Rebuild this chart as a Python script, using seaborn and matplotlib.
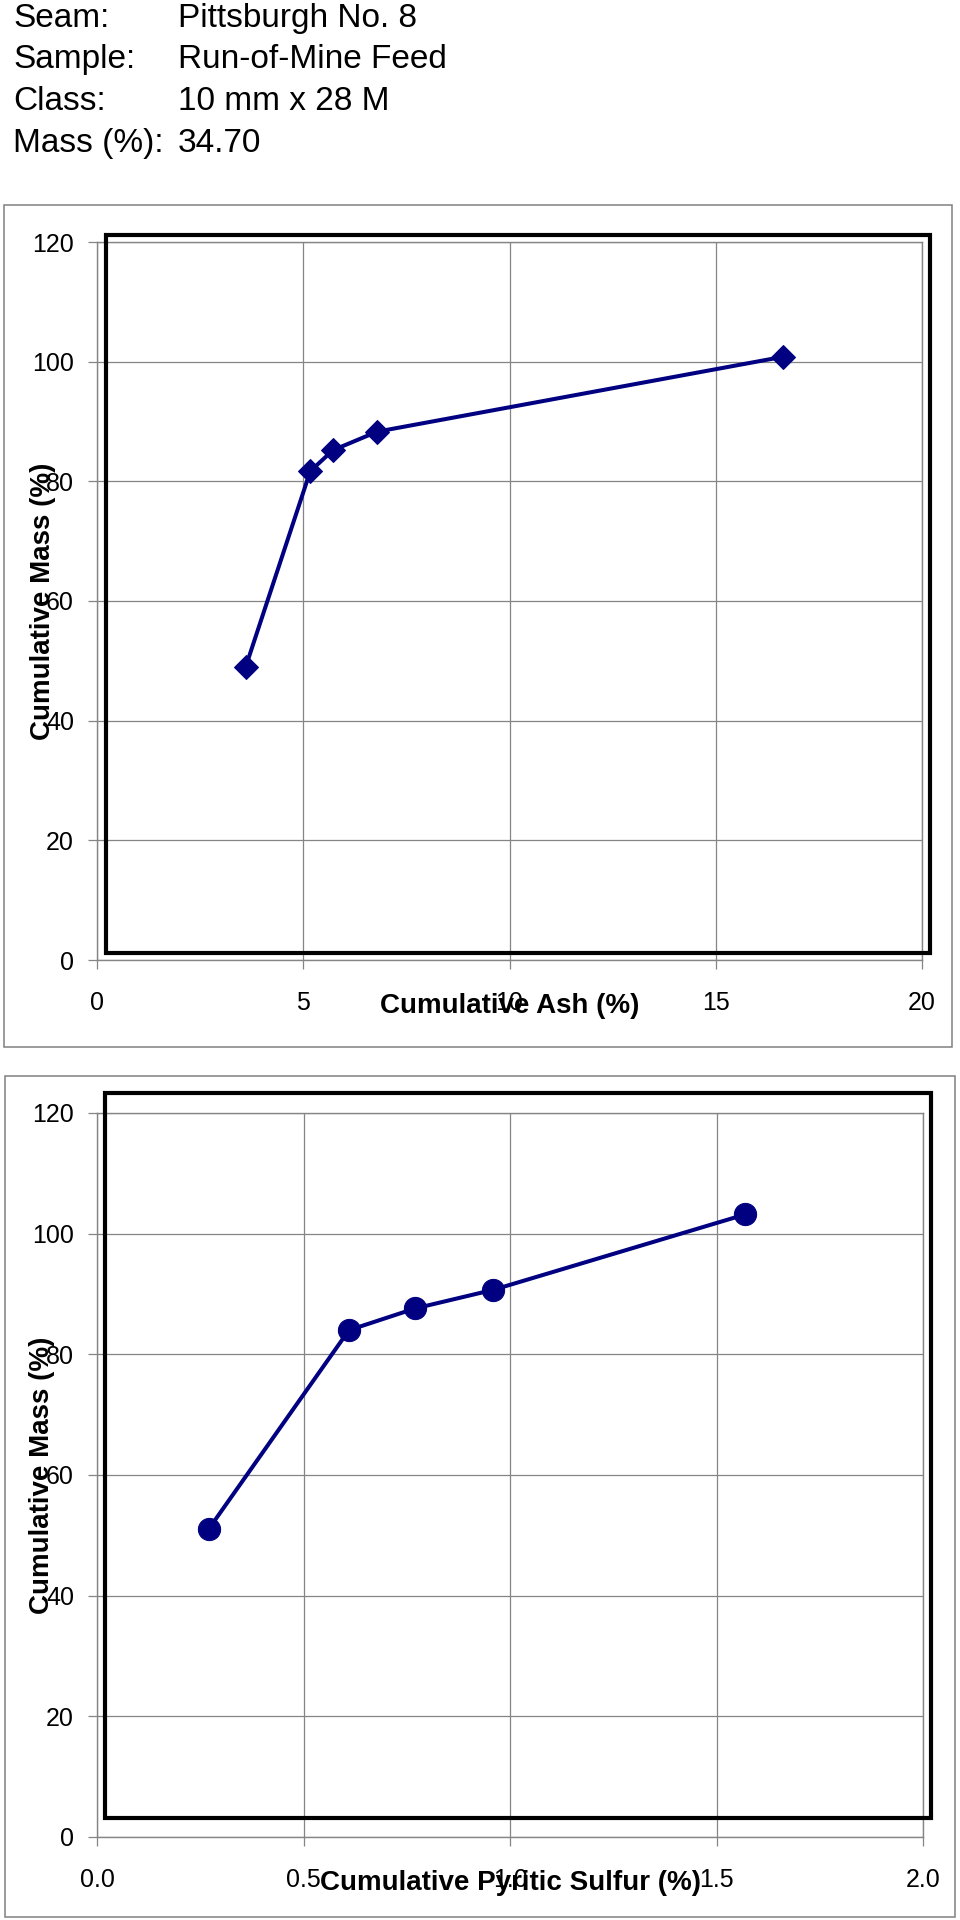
import matplotlib
matplotlib.use('Agg')
import matplotlib.pyplot as plt
from matplotlib.patches import Rectangle
from matplotlib.ticker import FormatStrFormatter
import seaborn as sns

header_labels = ['Seam:', 'Sample:', 'Class:', 'Mass (%):']
header_values = ['Pittsburgh No. 8', 'Run-of-Mine Feed', '10 mm x 28 M', '34.70']

cum_ash = [3.60, 5.17, 5.72, 6.79, 16.62]
cum_mass_ash = [48.9, 81.7, 85.2, 88.3, 100.8]

cum_sulfur = [0.27, 0.61, 0.77, 0.96, 1.57]
cum_mass_sulfur = [51.0, 84.0, 87.6, 90.7, 103.2]

ash_ticks = [0, 5, 10, 15, 20]
sulfur_ticks = [0.0, 0.5, 1.0, 1.5, 2.0]
mass_ticks = [0, 20, 40, 60, 80, 100, 120]

W, H = 960, 1920
NAVY = '#000080'
GRAY = '#858585'

sns.set_theme(style='white')
plt.rcParams['font.family'] = ['Liberation Sans', 'DejaVu Sans']

fig = plt.figure(figsize=(W / 100, H / 100), dpi=100)
fig.patch.set_facecolor('white')


def box(left, top, right, bottom):
    # pixel box (from top-left) -> figure fraction [l, b, w, h]
    return [left / W, 1 - bottom / H, (right - left) / W, (bottom - top) / H]


def frame(left, top, right, bottom, lw, color):
    l, b, w, h = box(left, top, right, bottom)
    fig.add_artist(Rectangle((l, b), w, h, transform=fig.transFigure,
                             fill=False, lw=lw, edgecolor=color, zorder=10))


# header block
for lab, val, yb in zip(header_labels, header_values, [27, 68, 110, 152]):
    fig.text(13 / W, 1 - yb / H, lab, fontsize=24, va='baseline', color='black')
    fig.text(178 / W, 1 - yb / H, val, fontsize=24, va='baseline', color='black')


def panel(rect, x, y, marker, msize, xticks, xfmt, xlabel):
    ax = fig.add_axes(rect)
    sns.lineplot(x=x, y=y, ax=ax, sort=False, color=NAVY, linewidth=2.9,
                 marker=marker, markersize=msize, markerfacecolor=NAVY,
                 markeredgecolor=NAVY, zorder=5)
    ax.set_xlim(xticks[0], xticks[-1])
    ax.set_ylim(0, 120)
    ax.set_xticks(xticks)
    ax.set_yticks(mass_ticks)
    ax.xaxis.set_major_formatter(FormatStrFormatter(xfmt))
    ax.set_axisbelow(True)
    ax.grid(True, color=GRAY, linewidth=0.9)
    for sp in ax.spines.values():
        sp.set_color(GRAY)
        sp.set_linewidth(1.0)
    ax.tick_params(axis='both', which='both', direction='out', length=6.5,
                   width=0.9, color=GRAY, labelsize=18, labelcolor='black',
                   left=True, bottom=True)
    ax.tick_params(axis='x', pad=16)
    ax.tick_params(axis='y', pad=10)
    ax.set_xlabel(xlabel, fontsize=20, fontweight='bold', color='black')
    ax.set_ylabel('Cumulative Mass (%)', fontsize=20, fontweight='bold',
                  color='black', va='center')
    ax.xaxis.set_label_coords(0.5, -0.046)
    ax.yaxis.set_label_coords(-0.066, 0.5)
    return ax


# top chart: mass vs ash
frame(4, 205, 952, 1047, 1.1, '#808080')
panel(box(97, 242, 922, 960), cum_ash, cum_mass_ash, 'D', 12,
      ash_ticks, '%d', 'Cumulative Ash (%)')
frame(106, 235, 930, 953, 3.0, 'black')

# bottom chart: mass vs pyritic sulfur
frame(5, 1076, 955, 1917, 1.1, '#808080')
panel(box(97, 1113, 923, 1837), cum_sulfur, cum_mass_sulfur, 'o', 16,
      sulfur_ticks, '%.1f', 'Cumulative Pyritic Sulfur (%)')
frame(105, 1093, 931, 1818, 3.0, 'black')

fig.savefig('out.png', dpi=100, facecolor='white')
